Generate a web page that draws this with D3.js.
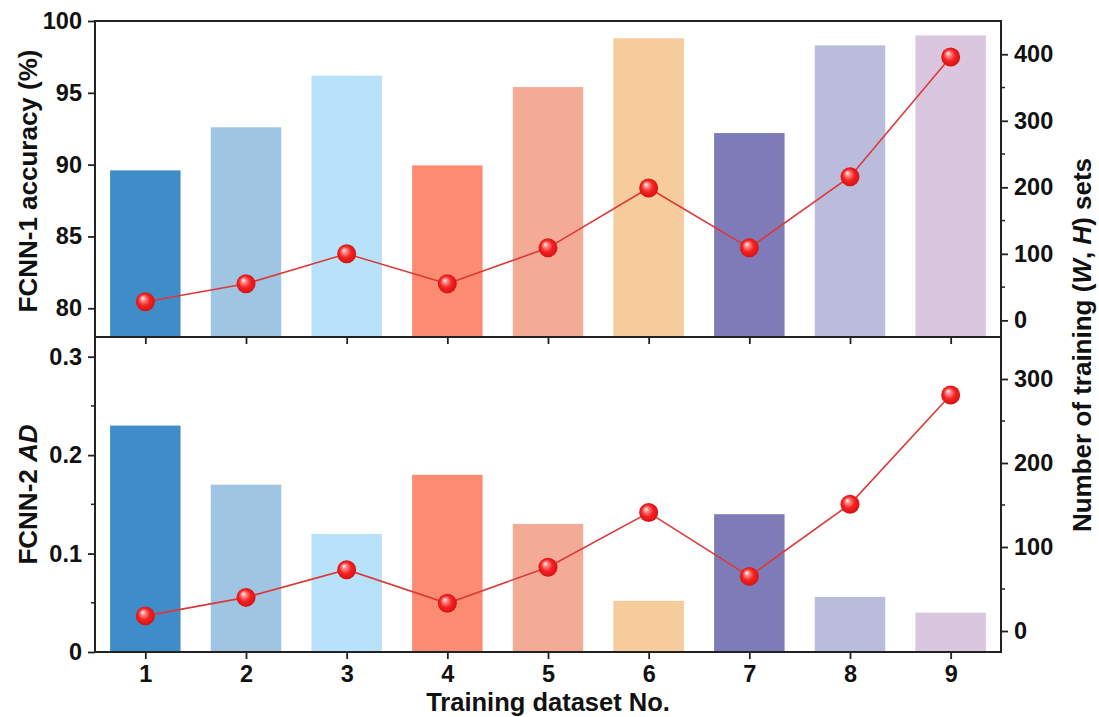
<!DOCTYPE html>
<html>
<head>
<meta charset="utf-8">
<title>FCNN training datasets</title>
<script src="https://cdn.jsdelivr.net/npm/d3@7/dist/d3.min.js"></script>
<style>
  body { margin: 0; background: #fff; }
  svg text { font-family: "Liberation Sans", Arial, sans-serif; font-weight: bold; fill: #111; }
</style>
</head>
<body>
<script>
// data
var datasets = [1, 2, 3, 4, 5, 6, 7, 8, 9];
var barColors = ["#3f8dc8", "#a0c5e3", "#b8e2fa", "#fb8c72", "#f4ab96", "#f7cc9c", "#7f7bb8", "#bbbbdb", "#dbc6e0"];
var accuracy = [89.6, 92.6, 96.2, 89.95, 95.4, 98.8, 92.2, 98.3, 99.0];
var nSetsTop = [28, 55, 100, 55, 109, 199, 109, 216, 396];
var adValues = [0.23, 0.17, 0.12, 0.18, 0.13, 0.052, 0.14, 0.056, 0.040];
var nSetsBottom = [18, 40, 73, 33, 76, 141, 65, 151, 281];

var W = 1099, H = 717;
var left = 95, right = 1001;
var topY0 = 21, midY = 337, botY1 = 652;

var svg = d3.select("body").append("svg").attr("width", W).attr("height", H);

// sphere marker gradient
var defs = svg.append("defs");
var grad = defs.append("radialGradient").attr("id", "ball")
  .attr("cx", "50%").attr("cy", "50%").attr("r", "55%").attr("fx", "35%").attr("fy", "30%");
grad.append("stop").attr("offset", "0%").attr("stop-color", "#ffffff");
grad.append("stop").attr("offset", "22%").attr("stop-color", "#ff8a8a");
grad.append("stop").attr("offset", "55%").attr("stop-color", "#f52222");
grad.append("stop").attr("offset", "100%").attr("stop-color", "#d01010");

var x = d3.scaleLinear().domain([0.5, 9.5]).range([left, right]);
var barW = x(1.7) - x(1);

// top panel scales
var yAcc = d3.scaleLinear().domain([78, 100]).range([midY, topY0]);
var yN1 = d3.scaleLinear().domain([-25, 450]).range([midY, topY0]);
// bottom panel scales
var yAD = d3.scaleLinear().domain([0, 0.32]).range([botY1, midY]);
var yN2 = d3.scaleLinear().domain([-25, 350]).range([botY1, midY]);

function drawPanel(vals, lineVals, yL, yR) {
  var g = svg.append("g");
  g.selectAll("rect").data(datasets).enter().append("rect")
    .attr("x", function(d) { return x(d) - barW / 2; })
    .attr("width", barW)
    .attr("y", function(d, i) { return yL(vals[i]); })
    .attr("height", function(d, i) { return yL.range()[0] - yL(vals[i]); })
    .attr("fill", function(d, i) { return barColors[i]; });

  var line = d3.line()
    .x(function(d) { return x(d); })
    .y(function(d, i) { return yR(lineVals[i]); });
  g.append("path").datum(datasets).attr("d", line)
    .attr("fill", "none").attr("stroke", "#dc3838").attr("stroke-width", 1.6);

  g.selectAll("circle").data(datasets).enter().append("circle")
    .attr("cx", function(d) { return x(d); })
    .attr("cy", function(d, i) { return yR(lineVals[i]); })
    .attr("r", 9.5)
    .attr("fill", "url(#ball)");
}

drawPanel(accuracy, nSetsTop, yAcc, yN1);
drawPanel(adValues, nSetsBottom, yAD, yN2);

function styleAxis(g) {
  g.selectAll(".domain").remove();
  g.selectAll("line").attr("stroke", "#222").attr("stroke-width", 1.8);
  g.selectAll("text").style("font-size", "23.5px");
}

// minor ticks helper
function minor(yScale, vals, side) {
  var g = svg.append("g");
  var x0 = side === "left" ? left : right;
  var dx = side === "left" ? -4 : 4;
  g.selectAll("line").data(vals).enter().append("line")
    .attr("x1", x0).attr("x2", x0 + dx)
    .attr("y1", function(d) { return yScale(d); })
    .attr("y2", function(d) { return yScale(d); })
    .attr("stroke", "#222").attr("stroke-width", 1.5);
}

// left axes
svg.append("g").attr("transform", "translate(" + left + ",0)")
  .call(d3.axisLeft(yAcc).tickValues([80, 85, 90, 95, 100]).tickSize(7).tickPadding(6))
  .call(styleAxis);
svg.append("g").attr("transform", "translate(" + left + ",0)")
  .call(d3.axisLeft(yAD).tickValues([0, 0.1, 0.2, 0.3]).tickFormat(function(d) { return d === 0 ? "0" : d3.format(".1f")(d); }).tickSize(7).tickPadding(6))
  .call(styleAxis);
minor(yAD, [0.05, 0.15, 0.25], "left");

// right axes
svg.append("g").attr("transform", "translate(" + right + ",0)")
  .call(d3.axisRight(yN1).tickValues([0, 100, 200, 300, 400]).tickSize(7).tickPadding(6))
  .call(styleAxis);
minor(yN1, [50, 150, 250, 350], "right");
svg.append("g").attr("transform", "translate(" + right + ",0)")
  .call(d3.axisRight(yN2).tickValues([0, 100, 200, 300]).tickSize(7).tickPadding(6))
  .call(styleAxis);
minor(yN2, [50, 150, 250], "right");

// x axes
svg.append("g").attr("transform", "translate(0," + midY + ")")
  .call(d3.axisBottom(x).tickValues(datasets).tickSize(7).tickFormat(""))
  .call(styleAxis);
svg.append("g").attr("transform", "translate(0," + botY1 + ")")
  .call(d3.axisBottom(x).tickValues(datasets).tickSize(7).tickPadding(6).tickFormat(d3.format("d")))
  .call(styleAxis);

// frames
var frame = svg.append("g").attr("fill", "none").attr("stroke", "#222").attr("stroke-width", 2);
frame.append("rect").attr("x", left).attr("y", topY0).attr("width", right - left).attr("height", midY - topY0);
frame.append("rect").attr("x", left).attr("y", midY).attr("width", right - left).attr("height", botY1 - midY);

// axis titles
svg.append("text").attr("transform", "translate(37," + ((topY0 + midY) / 2 + 2) + ") rotate(-90)")
  .attr("text-anchor", "middle").style("font-size", "26px").text("FCNN-1 accuracy (%)");

var t2 = svg.append("text").attr("transform", "translate(37," + ((midY + botY1) / 2) + ") rotate(-90)")
  .attr("text-anchor", "middle").style("font-size", "26px");
t2.append("tspan").text("FCNN-2 ");
t2.append("tspan").style("font-style", "italic").text("AD");

var t3 = svg.append("text").attr("transform", "translate(1091," + (midY + 8) + ") rotate(-90)")
  .attr("text-anchor", "middle").style("font-size", "26px");
t3.append("tspan").text("Number of training (");
t3.append("tspan").style("font-style", "italic").text("W");
t3.append("tspan").text(", ");
t3.append("tspan").style("font-style", "italic").text("H");
t3.append("tspan").text(") sets");

svg.append("text").attr("x", (left + right) / 2).attr("y", 711)
  .attr("text-anchor", "middle").style("font-size", "25.5px").text("Training dataset No.");
</script>
</body>
</html>
